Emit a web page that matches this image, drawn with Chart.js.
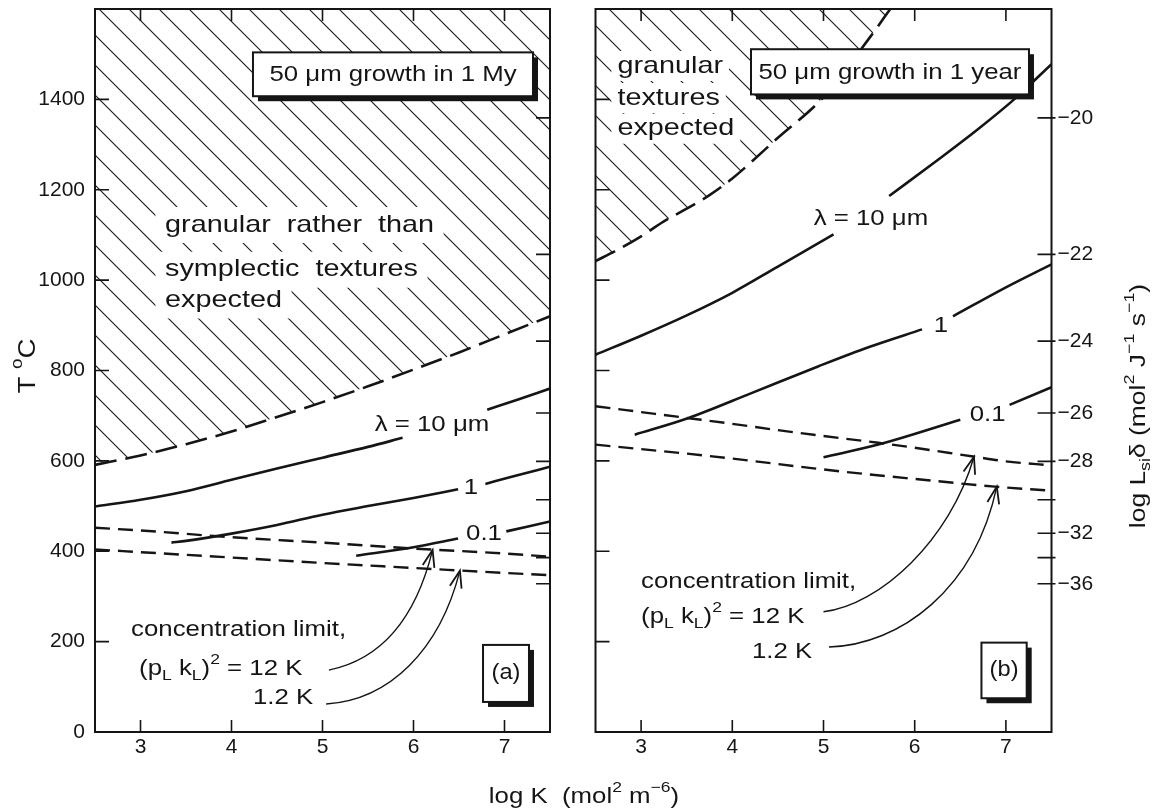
<!DOCTYPE html>
<html><head><meta charset="utf-8">
<script src="https://cdn.jsdelivr.net/npm/chart.js@4.4.1/dist/chart.umd.min.js"></script>
<style>
html,body{margin:0;padding:0;background:#fff;}
#wrap{position:relative;width:1152px;height:809px;background:#fff;}
canvas{position:absolute;left:0;top:0;}
</style></head><body>
<div id="wrap"><canvas id="ca" width="1152" height="809"></canvas><canvas id="cb" width="1152" height="809"></canvas></div>
<script>
// ---------- axes / ticks ----------
const xTicks = [3, 4, 5, 6, 7];
const tTicks = [0, 200, 400, 600, 800, 1000, 1200, 1400];
const logLTickT = [1359, 1057, 865, 706, 599, 514, 440, 386, 328];
const logLTickLabels = ['\u221220', '\u221222', '\u221224', '\u221226', '\u221228', '', '\u221232', '', '\u221236'];

// ---------- panel (a): 50 um growth in 1 My ----------
const aBoundX = [2.5, 3, 3.5, 4, 4.5, 5, 5.5, 6, 6.5, 7, 7.5];
const aBoundT = [591, 612, 637, 665, 697, 730, 765, 802, 840, 880, 920];
const aL10X1 = [2.5, 3, 3.5, 4, 4.5, 5, 5.5, 5.88];
const aL10T1 = [499, 514, 533, 558, 583, 607, 631, 651];
const aL10X2 = [6.81, 7.15, 7.5];
const aL10T2 = [713, 736, 760];
const aL1X1 = [3.34, 3.5, 4, 4.5, 5, 5.5, 6, 6.49];
const aL1T1 = [419, 423, 439, 458, 481, 500, 518, 537];
const aL1X2 = [6.79, 7.1, 7.5];
const aL1T2 = [549, 566, 587];
const aL01X1 = [5.37, 6, 6.49];
const aL01T1 = [390, 409, 428];
const aL01X2 = [7.02, 7.5];
const aL01T2 = [444, 466];
const aC12X = [2.5, 3, 4, 5, 6, 7, 7.5];
const aC12T = [452, 446, 431, 419, 406, 395, 388];
const aC1X = [2.5, 3, 4, 5, 6, 7, 7.5];
const aC1T = [404, 398, 386, 374, 363, 352, 347];

// ---------- panel (b): 50 um growth in 1 year ----------
const bBoundX = [2.5, 2.75, 3, 3.25, 3.5, 3.75, 4, 4.5, 5, 5.5, 5.75];
const bBoundT = [1042, 1068, 1097, 1130, 1158, 1188, 1225, 1315, 1405, 1535, 1605];
const bL10X1 = [2.5, 3, 3.5, 4, 4.5, 5.11];
const bL10T1 = [835, 877, 922, 972, 1030, 1101];
const bL10X2 = [5.72, 6.26, 6.7, 7.09, 7.5];
const bL10T2 = [1186, 1267, 1335, 1400, 1478];
const bL1X1 = [2.93, 3.52, 4.21, 4.94, 5.5, 6.08];
const bL1T1 = [658, 695, 750, 809, 852, 891];
const bL1X2 = [6.42, 6.99, 7.5];
const bL1T2 = [920, 983, 1035];
const bL01X1 = [5.0, 5.6, 6.5];
const bL01T1 = [608, 636, 691];
const bL01X2 = [7.04, 7.5];
const bL01T2 = [724, 763];
const bC12X = [2.5, 3, 3.5, 4, 4.5, 5, 5.6, 6, 6.66, 7, 7.5];
const bC12T = [721, 708, 695, 682, 668, 655, 640, 629, 609, 599, 590];
const bC1X = [2.5, 3, 3.5, 4, 4.87, 5.5, 6, 6.88, 7.5];
const bC1T = [636, 626, 616, 605, 584, 570, 560, 543, 534];

// ---------- annotations (data coordinates) ----------
const aHatchText = ['granular  rather  than', 'symplectic  textures', 'expected'];
const aHatchPos = [[3.27, 1122], [3.27, 1023], [3.27, 955]];
const bHatchText = ['granular', 'textures', 'expected'];
const bHatchPos = [[2.74, 1474], [2.74, 1403], [2.74, 1335]];
const aCurveLabels = [['\u03bb = 10 \u03bcm', 6.203, 680], ['1', 6.632, 540], ['0.1', 6.775, 438]];
const bCurveLabels = [['\u03bb = 10 \u03bcm', 5.52, 1134], ['1', 6.288, 899], ['0.1', 6.80, 702]];
const aConcPos = [[2.896, 225], [2.984, 140], [4.236, 74]];
const bConcPos = [[3.0, 331], [3.0, 254], [4.216, 177]];
const aArrows = [[[5.07, 137], [5.63, 160], [6.02, 248], [6.21, 403]], [[5.04, 62], [5.74, 71], [6.29, 182], [6.51, 357]]];
const bArrows = [[[5.0, 266], [5.62, 281], [6.39, 425], [6.65, 609]], [[5.06, 188], [5.84, 193], [6.66, 315], [6.9, 543]]];
const aBox = [4.236, 7.313, 1407, 1504], aBoxText = '50 \u03bcm growth in 1 My';
const bBox = [4.205, 7.253, 1411, 1511], bBoxText = '50 \u03bcm growth in 1 year';
const aTag = [6.764, 7.269, 66.5, 192.7], aTagText = '(a)';
const bTag = [6.732, 7.228, 74.7, 197.8], bTagText = '(b)';

const FONT = '"Liberation Sans", Arial, Helvetica, sans-serif';
const INK = '#151515';
const SX = 1.2;

function runsWidth(ctx, runs, size) {
  let w = 0;
  for (const r of runs) { ctx.font = (r[1] ? size * 0.68 : size) + 'px ' + FONT; w += ctx.measureText(r[0]).width; }
  return w;
}
function drawRuns(ctx, runs, x, y, o) {
  o = o || {};
  const size = o.size || 21.5, sx = o.sx || SX, align = o.align || 'left';
  ctx.save();
  ctx.translate(x, y);
  if (o.rot) ctx.rotate(o.rot);
  ctx.scale(sx, 1);
  const w = runsWidth(ctx, runs, size);
  let cx = align === 'left' ? 0 : align === 'center' ? -w / 2 : -w;
  if (o.bg) { ctx.fillStyle = '#fff'; ctx.fillRect(cx - o.bg[0], -o.bg[1], w + 2 * o.bg[0], 2 * o.bg[1]); }
  ctx.fillStyle = INK; ctx.textBaseline = 'middle'; ctx.textAlign = 'left';
  for (const r of runs) {
    const fs = r[1] ? size * 0.68 : size;
    ctx.font = fs + 'px ' + FONT;
    const dy = r[1] === 1 ? size * 0.32 : r[1] === 2 ? -size * 0.42 : 0;
    ctx.fillText(r[0], cx, dy);
    cx += ctx.measureText(r[0]).width;
  }
  ctx.restore();
}
function drawBox(ctx, x0, y0, x1, y1, sh) {
  ctx.save();
  ctx.fillStyle = INK; ctx.fillRect(x0 + sh, y0 + sh, x1 - x0, y1 - y0);
  ctx.fillStyle = '#fff'; ctx.fillRect(x0, y0, x1 - x0, y1 - y0);
  ctx.strokeStyle = INK; ctx.lineWidth = 2; ctx.strokeRect(x0, y0, x1 - x0, y1 - y0);
  ctx.restore();
}
function drawArrow(ctx, X, Y, pts) {
  const p = pts.map(q => [X(q[0]), Y(q[1])]);
  ctx.save();
  ctx.strokeStyle = INK; ctx.lineWidth = 1.4;
  ctx.beginPath(); ctx.moveTo(p[0][0], p[0][1]);
  ctx.bezierCurveTo(p[1][0], p[1][1], p[2][0], p[2][1], p[3][0], p[3][1]); ctx.stroke();
  const ang = Math.atan2(p[3][1] - p[2][1], p[3][0] - p[2][0]);
  const L = 18, a = 0.34;
  ctx.lineWidth = 1.8;
  ctx.beginPath();
  ctx.moveTo(p[3][0] - L * Math.cos(ang - a), p[3][1] - L * Math.sin(ang - a));
  ctx.lineTo(p[3][0], p[3][1]);
  ctx.lineTo(p[3][0] - L * Math.cos(ang + a), p[3][1] - L * Math.sin(ang + a));
  ctx.stroke();
  ctx.restore();
}
function makeHatch(canvas, sp) {
  const c = document.createElement('canvas'); c.width = sp; c.height = sp;
  const g = c.getContext('2d');
  g.strokeStyle = '#1c1c1c'; g.lineWidth = 1.15; g.lineCap = 'square';
  g.beginPath();
  g.moveTo(-2, -2); g.lineTo(sp + 2, sp + 2);
  g.moveTo(sp - 3, -3); g.lineTo(sp + 3, 3);
  g.moveTo(-3, sp - 3); g.lineTo(3, sp + 3);
  g.stroke();
  return canvas.getContext('2d').createPattern(c, 'repeat');
}

const pts = (xs, ts) => xs.map((x, i) => ({ x: x, y: ts[i] }));
function solid(xs, ts) { return { data: pts(xs, ts), borderColor: INK, borderWidth: 2.6, pointRadius: 0, fill: false, cubicInterpolationMode: 'monotone' }; }
function dashed(xs, ts, dash) { return { data: pts(xs, ts), borderColor: INK, borderWidth: 2.4, borderDash: dash, pointRadius: 0, fill: false, cubicInterpolationMode: 'monotone' }; }
function boundary(xs, ts, pattern) { return { data: pts(xs, ts), borderColor: INK, borderWidth: 2.6, borderDash: [22, 9], pointRadius: 0, fill: 'end', backgroundColor: pattern, cubicInterpolationMode: 'monotone' }; }

function panelPlugin(p) {
  return {
    id: 'panel' + p,
    afterDatasetsDraw(chart) {
      const ctx = chart.ctx, xs = chart.scales.x, ys = chart.scales.y, a = chart.chartArea;
      const X = v => xs.getPixelForValue(v), Y = v => ys.getPixelForValue(v);
      const isA = p === 'a';
      const ht = isA ? aHatchText : bHatchText, hp = isA ? aHatchPos : bHatchPos;
      ht.forEach((t, i) => drawRuns(ctx, [[t, 0]], X(hp[i][0]), Y(hp[i][1]), { size: 24, bg: isA ? [8, 18] : [5, 15] }));
      (isA ? aCurveLabels : bCurveLabels).forEach(l => drawRuns(ctx, [[l[0], 0]], X(l[1]), Y(l[2]), { align: 'center' }));
      const cp = isA ? aConcPos : bConcPos;
      drawRuns(ctx, [['concentration limit,', 0]], X(cp[0][0]), Y(cp[0][1]));
      drawRuns(ctx, [['(p', 0], ['L', 1], [' k', 0], ['L', 1], [')', 0], ['2', 2], [' = 12 K', 0]], X(cp[1][0]), Y(cp[1][1]));
      drawRuns(ctx, [['1.2 K', 0]], X(cp[2][0]), Y(cp[2][1]));
      (isA ? aArrows : bArrows).forEach(ar => drawArrow(ctx, X, Y, ar));
      const bx = isA ? aBox : bBox;
      drawBox(ctx, X(bx[0]), Y(bx[3]), X(bx[1]), Y(bx[2]), 5);
      drawRuns(ctx, [[isA ? aBoxText : bBoxText, 0]], (X(bx[0]) + X(bx[1])) / 2, (Y(bx[2]) + Y(bx[3])) / 2 + 1, { align: 'center' });
      const tg = isA ? aTag : bTag;
      drawBox(ctx, X(tg[0]), Y(tg[3]), X(tg[1]), Y(tg[2]), 5);
      drawRuns(ctx, [[isA ? aTagText : bTagText, 0]], (X(tg[0]) + X(tg[1])) / 2, (Y(tg[2]) + Y(tg[3])) / 2, { align: 'center', size: 21.5, sx: 1.1 });
      ctx.save();
      ctx.strokeStyle = INK; ctx.lineWidth = 1.6;
      ctx.beginPath();
      xTicks.forEach(v => { ctx.moveTo(X(v), a.bottom); ctx.lineTo(X(v), a.bottom - 12); ctx.moveTo(X(v), a.top); ctx.lineTo(X(v), a.top + 12); });
      tTicks.forEach(v => { if (v > 0) { ctx.moveTo(a.left, Y(v)); ctx.lineTo(a.left + 14, Y(v)); } });
      logLTickT.forEach(v => { ctx.moveTo(a.right - 14, Y(v)); ctx.lineTo(a.right + (isA ? 0 : 4), Y(v)); });
      ctx.stroke();
      ctx.lineWidth = 2;
      ctx.strokeRect(a.left, a.top, a.right - a.left, a.bottom - a.top);
      ctx.restore();
      if (isA) {
        drawRuns(ctx, [['T ', 0], ['o', 2], ['C', 0]], 28, 366, { size: 24, sx: 1.15, rot: -Math.PI / 2, align: 'center' });
        drawRuns(ctx, [['log K  (mol', 0], ['2', 2], [' m', 0], ['\u22126', 2], [')', 0]], 584, 797, { align: 'center' });
      } else {
        drawRuns(ctx, [['log L', 0], ['si', 1], ['\u03b4 (mol', 0], ['2', 2], [' J', 0], ['\u22121', 2], [' s', 0], ['\u22121', 2], [')', 0]], 1139, 406, { size: 22, rot: -Math.PI / 2, align: 'center' });
      }
    }
  };
}

const tickFont = { family: FONT, size: 21 };
function noMarginsV(w) { return s => { s.width = w; s.paddingTop = 0; s.paddingBottom = 0; }; }
function xScale() {
  return { type: 'linear', min: 2.5, max: 7.5,
    afterBuildTicks: s => { s.ticks = xTicks.map(v => ({ value: v })); },
    afterFit: s => { s.height = 77; s.paddingLeft = 0; s.paddingRight = 0; },
    grid: { display: false, drawTicks: false }, border: { display: false },
    ticks: { padding: 3, color: INK, font: tickFont, maxRotation: 0, autoSkip: false, callback: v => String(v) } };
}

const ca = document.getElementById('ca'), cb = document.getElementById('cb');
const patA = makeHatch(ca, 30), patB = makeHatch(cb, 30);

new Chart(ca, {
  type: 'line',
  data: { datasets: [
    boundary(aBoundX, aBoundT, patA),
    solid(aL10X1, aL10T1), solid(aL10X2, aL10T2),
    solid(aL1X1, aL1T1), solid(aL1X2, aL1T2),
    solid(aL01X1, aL01T1), solid(aL01X2, aL01T2),
    dashed(aC12X, aC12T, [15, 8]), dashed(aC1X, aC1T, [15, 8])
  ] },
  options: {
    responsive: false, animation: false, devicePixelRatio: 1,
    layout: { padding: { left: 0, right: 602, top: 9, bottom: 0 } },
    plugins: { legend: { display: false }, tooltip: { enabled: false } },
    scales: {
      x: xScale(),
      y: { type: 'linear', min: 0, max: 1600,
        afterBuildTicks: s => { s.ticks = tTicks.map(v => ({ value: v })); },
        afterFit: noMarginsV(95),
        grid: { display: false, drawTicks: false }, border: { display: false },
        ticks: { padding: 10, color: INK, font: tickFont, autoSkip: false, callback: v => String(v) } }
    }
  },
  plugins: [panelPlugin('a')]
});

new Chart(cb, {
  type: 'line',
  data: { datasets: [
    boundary(bBoundX, bBoundT, patB),
    solid(bL10X1, bL10T1), solid(bL10X2, bL10T2),
    solid(bL1X1, bL1T1), solid(bL1X2, bL1T2),
    solid(bL01X1, bL01T1), solid(bL01X2, bL01T2),
    dashed(bC12X, bC12T, [15, 8]), dashed(bC1X, bC1T, [15, 8])
  ] },
  options: {
    responsive: false, animation: false, devicePixelRatio: 1,
    layout: { padding: { left: 0, right: 0, top: 9, bottom: 0 } },
    plugins: { legend: { display: false }, tooltip: { enabled: false } },
    scales: {
      x: xScale(),
      y: { type: 'linear', min: 0, max: 1600,
        afterBuildTicks: s => { s.ticks = tTicks.map(v => ({ value: v })); },
        afterFit: noMarginsV(595.5),
        grid: { display: false, drawTicks: false }, border: { display: false },
        ticks: { display: false } },
      y2: { type: 'linear', position: 'right', min: 0, max: 1600,
        afterBuildTicks: s => { s.ticks = logLTickT.map(v => ({ value: v })); },
        afterFit: noMarginsV(100.5),
        grid: { display: false, drawTicks: false }, border: { display: false },
        ticks: { padding: 6, color: INK, font: tickFont, autoSkip: false, callback: (v, i) => logLTickLabels[i] } }
    }
  },
  plugins: [panelPlugin('b')]
});
</script>
</body></html>
